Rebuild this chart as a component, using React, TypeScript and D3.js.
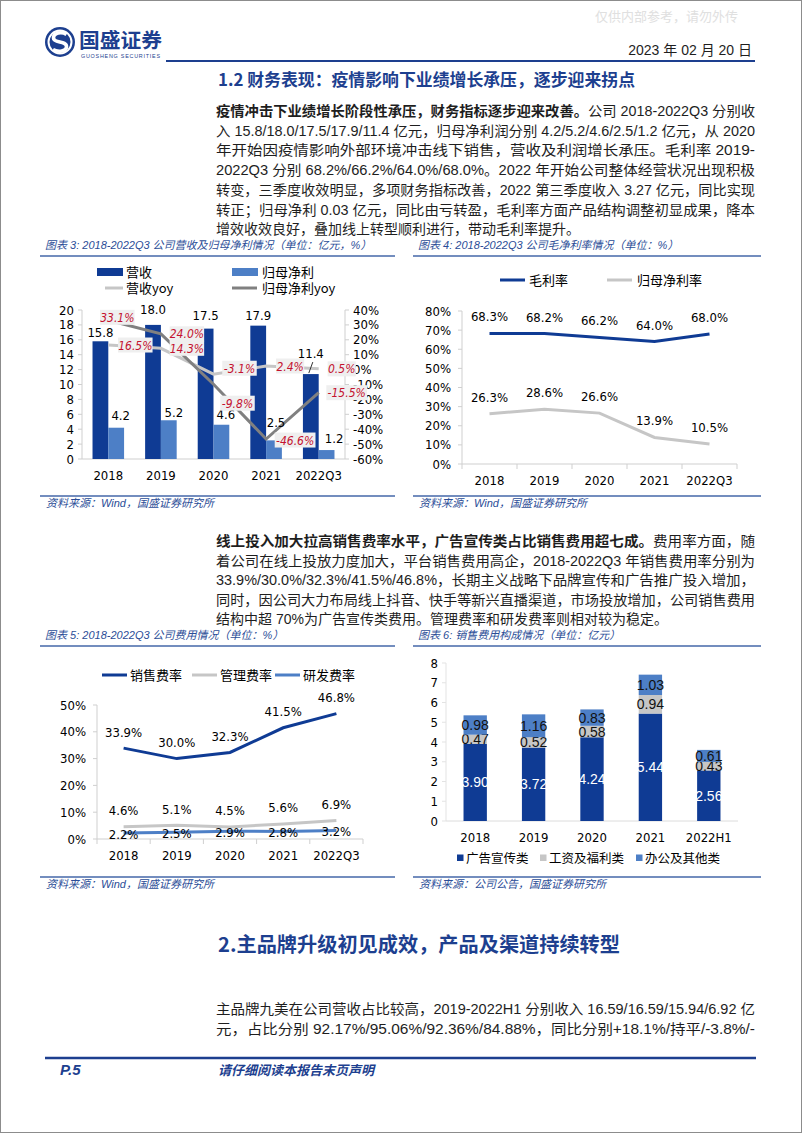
import { scaleBand, scaleLinear, line } from 'd3';

// ---- chart data ----
const years = ['2018', '2019', '2020', '2021', '2022Q3'];
const revenue = [15.8, 18.0, 17.5, 17.9, 11.4];
const netProfit = [4.2, 5.2, 4.6, 2.5, 1.2];
const revenueYoy = [16.5, 14.3, -3.1, 2.4, 0.5];
const profitYoy = [33.1, 24.0, -9.8, -46.6, -15.5];
const leftTicks = [0, 2, 4, 6, 8, 10, 12, 14, 16, 18, 20];
const rightTicks = [-60, -50, -40, -30, -20, -10, 0, 10, 20, 30, 40];

const grossMargin = [68.3, 68.2, 66.2, 64.0, 68.0];
const netMargin = [26.3, 28.6, 26.6, 13.9, 10.5];
const marginTicks = [0, 10, 20, 30, 40, 50, 60, 70, 80];

const salesRate = [33.9, 30.0, 32.3, 41.5, 46.8];
const adminRate = [4.6, 5.1, 4.5, 5.6, 6.9];
const rdRate = [2.2, 2.5, 2.9, 2.8, 3.2];
const rateTicks = [0, 10, 20, 30, 40, 50];

const years6 = ['2018', '2019', '2020', '2021', '2022H1'];
const adSpend = [3.9, 3.72, 4.24, 5.44, 2.56];
const salary = [0.47, 0.52, 0.58, 0.94, 0.43];
const office = [0.98, 1.16, 0.83, 1.03, 0.61];
const spendTicks = [0, 1, 2, 3, 4, 5, 6, 7, 8];

// hand-moved labels in the source chart (layout only)
const revLabelLift = [9, 15, 13.5, 10.5, 21];
const profitLabelNudge = [[4.5, -12.5], [5, -8], [4.5, -10], [2, -18], [7.5, -12]];
const revYoyNudge = [[27, 0], [26, 0], [26, -6], [24, 0], [23, 0]];
const profitYoyNudge = [[9, -3], [26, 0], [24, 19], [29, 1], [28, 0]];

// ---- styles ----
const CJK = "'Noto Sans CJK SC', sans-serif";
const BODY = "'Liberation Sans Narrow', 'Liberation Sans', 'Noto Sans CJK SC', sans-serif";
const TITLE = "'Liberation Sans', 'Noto Sans CJK SC', sans-serif";
const NUM = "'DejaVu Sans Condensed', 'DejaVu Sans', 'Noto Sans CJK SC', sans-serif";

const NAVY = '#1d3f8f';
const DARK_BLUE = '#0f3b94';
const MID_BLUE = '#4d7fc6';
const LIGHT_GRAY = '#c6c6c6';
const DARK_GRAY = '#808080';
const AXIS = '#cfcfcf';
const RED = '#c4122f';
const TITLE_BLUE = '#2b4d97';
const RULE_BLUE = '#4467a8';

type Seg = { t: string; b?: boolean };

const para1: Seg[][] = [
  [{ t: '疫情冲击下业绩增长阶段性承压，财务指标逐步迎来改善。', b: true }, { t: '公司 2018-2022Q3 分别收' }],
  [{ t: '入 15.8/18.0/17.5/17.9/11.4 亿元，归母净利润分别 4.2/5.2/4.6/2.5/1.2 亿元，从 2020' }],
  [{ t: '年开始因疫情影响外部环境冲击线下销售，营收及利润增长承压。毛利率 2019-' }],
  [{ t: '2022Q3 分别 68.2%/66.2%/64.0%/68.0%。2022 年开始公司整体经营状况出现积极' }],
  [{ t: '转变，三季度收效明显，多项财务指标改善，2022 第三季度收入 3.27 亿元，同比实现' }],
  [{ t: '转正；归母净利 0.03 亿元，同比由亏转盈，毛利率方面产品结构调整初显成果，降本' }],
  [{ t: '增效收效良好，叠加线上转型顺利进行，带动毛利率提升。' }],
];

const para2: Seg[][] = [
  [{ t: '线上投入加大拉高销售费率水平，广告宣传类占比销售费用超七成。', b: true }, { t: '费用率方面，随' }],
  [{ t: '着公司在线上投放力度加大，平台销售费用高企，2018-2022Q3 年销售费用率分别为' }],
  [{ t: '33.9%/30.0%/32.3%/41.5%/46.8%，长期主义战略下品牌宣传和广告推广投入增加，' }],
  [{ t: '同时，因公司大力布局线上抖音、快手等新兴直播渠道，市场投放增加，公司销售费用' }],
  [{ t: '结构中超 70%为广告宣传类费用。管理费率和研发费率则相对较为稳定。' }],
];

const para3: Seg[][] = [
  [{ t: '主品牌九美在公司营收占比较高，2019-2022H1 分别收入 16.59/16.59/15.94/6.92 亿' }],
  [{ t: '元，占比分别 92.17%/95.06%/92.36%/84.88%，同比分别+18.1%/持平/-3.8%/-' }],
];

const Para = ({ lines, y0, lead, justifyAll = false }: { lines: Seg[][]; y0: number; lead: number; justifyAll?: boolean }) => (
  <g>
    {lines.map((segs, i) => {
      const full = justifyAll || i < lines.length - 1;
      const extra = full ? { textLength: 539, lengthAdjust: 'spacingAndGlyphs' } : {};
      return (
        <text key={i} x={216} y={y0 + i * lead} fontSize={14} fontFamily={BODY} fill="#1e1e1e" {...extra}>
          {segs.map((s, j) => (
            <tspan key={j} fontWeight={s.b ? 700 : 400} fontFamily={s.b ? CJK : BODY}>
              {s.t}
            </tspan>
          ))}
        </text>
      );
    })}
  </g>
);

const Frame = ({ x0, x1, title, source, titleY, sourceY }: any) => (
  <g>
    <text x={x0 + 5} y={titleY + 4} fontSize={11} fontStyle="italic" fill={TITLE_BLUE} fontFamily={TITLE}>
      {title}
    </text>
    <line x1={x0} x2={x1} y1={titleY + 11} y2={titleY + 11} stroke={RULE_BLUE} strokeWidth={1.6} />
    <line x1={x0} x2={x1} y1={sourceY - 7} y2={sourceY - 7} stroke={RULE_BLUE} strokeWidth={1.6} />
    <text x={x0 + 6} y={sourceY + 4} fontSize={11} fontStyle="italic" fill={TITLE_BLUE} fontFamily={TITLE}>
      {source}
    </text>
  </g>
);

const pct = (v: number) => `${v.toFixed(1)}%`;
const textW = (s: string) => s.length * 6.3 + 3;

const YoyLabel = ({ x, y, s }: { x: number; y: number; s: string }) => (
  <g>
    <rect x={x - textW(s) / 2} y={y - 7.5} width={textW(s)} height={15} fill="#efefef" />
    <text x={x} y={y + 4.5} textAnchor="middle" fontSize={12} fontStyle="italic" fill={RED} fontFamily={NUM}>
      {s}
    </text>
  </g>
);

function RevenueChart() {
  const [xa, xb] = [82, 345];
  const x = scaleBand<string>().domain(years).range([xa, xb]);
  const bw = x.bandwidth();
  const mid = (i: number) => (x(years[i]) ?? 0) + bw / 2;
  const yL = scaleLinear().domain([0, 20]).range([459, 310]);
  const yR = scaleLinear().domain([-60, 40]).range([459, 310]);
  const barW = bw * 0.3;
  const path = line<number>().x((_, i) => mid(i)).y((v) => yR(v));
  return (
    <g>
      <rect x={97} y={268} width={26} height={8} fill={DARK_BLUE} />
      <text x={126} y={276.5} fontSize={13} fontFamily={CJK}>营收</text>
      <rect x={232} y={268} width={26} height={8} fill={MID_BLUE} />
      <text x={262} y={276.5} fontSize={13} fontFamily={CJK}>归母净利</text>
      <line x1={105} x2={123} y1={288} y2={288} stroke={LIGHT_GRAY} strokeWidth={3} />
      <text x={126} y={292.5} fontSize={13} fontFamily={CJK}>营收yoy</text>
      <line x1={232} x2={257} y1={288} y2={288} stroke={DARK_GRAY} strokeWidth={3} />
      <text x={262} y={292.5} fontSize={13} fontFamily={CJK}>归母净利yoy</text>

      <line x1={xa} x2={xa} y1={yL(20)} y2={yL(0)} stroke={AXIS} />
      <line x1={xb} x2={xb} y1={yL(20)} y2={yL(0)} stroke={AXIS} />
      <line x1={xa} x2={xb} y1={yL(0)} y2={yL(0)} stroke={AXIS} />
      {leftTicks.map((t) => (
        <g key={t}>
          <line x1={xa - 4} x2={xa} y1={yL(t)} y2={yL(t)} stroke={AXIS} />
          <text x={74} y={yL(t) + 4.5} textAnchor="end" fontSize={13} fontFamily={NUM}>{t}</text>
        </g>
      ))}
      {rightTicks.map((t) => (
        <g key={t}>
          <line x1={xb} x2={xb + 4} y1={yR(t)} y2={yR(t)} stroke={AXIS} />
          <text x={353} y={yR(t) + 4.5} fontSize={13} fontFamily={NUM}>{t}%</text>
        </g>
      ))}
      {years.map((d, i) => (
        <g key={d}>
          <rect x={mid(i) - barW} y={yL(revenue[i])} width={barW} height={yL(0) - yL(revenue[i])} fill={DARK_BLUE} />
          <rect x={mid(i)} y={yL(netProfit[i])} width={barW} height={yL(0) - yL(netProfit[i])} fill={MID_BLUE} />
          <text x={mid(i)} y={yL(0) + 21} textAnchor="middle" fontSize={13} fontFamily={NUM}>{d}</text>
        </g>
      ))}
      <path d={path(revenueYoy) ?? ''} fill="none" stroke={LIGHT_GRAY} strokeWidth={3} />
      <path d={path(profitYoy) ?? ''} fill="none" stroke={DARK_GRAY} strokeWidth={3} />
      {years.map((d, i) => (
        <g key={d}>
          <rect x={mid(i) - barW / 2 - 14} y={yL(revenue[i]) - revLabelLift[i] - 8} width={28} height={15} fill="#fff" />
          <text x={mid(i) - barW / 2} y={yL(revenue[i]) - revLabelLift[i] + 4.5} textAnchor="middle" fontSize={13} fontFamily={NUM}>
            {revenue[i].toFixed(1)}
          </text>
          <text x={mid(i) + barW / 2 + profitLabelNudge[i][0]} y={yL(netProfit[i]) + profitLabelNudge[i][1] + 4.5} textAnchor="middle" fontSize={13} fontFamily={NUM}>
            {netProfit[i].toFixed(1)}
          </text>
        </g>
      ))}
      <line x1={mid(4) - barW / 2 - 2} x2={mid(4) - barW / 2 + 2} y1={yL(revenue[4]) - 1} y2={yL(revenue[4]) - 12} stroke="#333" />
      {years.map((d, i) => (
        <g key={d}>
          <YoyLabel x={mid(i) + revYoyNudge[i][0]} y={yR(revenueYoy[i]) + revYoyNudge[i][1]} s={pct(revenueYoy[i])} />
          <YoyLabel x={mid(i) + profitYoyNudge[i][0]} y={yR(profitYoy[i]) + profitYoyNudge[i][1]} s={pct(profitYoy[i])} />
        </g>
      ))}
    </g>
  );
}

function MarginChart() {
  const [xa, xb] = [462, 737];
  const x = scaleBand<string>().domain(years).range([xa, xb]);
  const bw = x.bandwidth();
  const mid = (i: number) => (x(years[i]) ?? 0) + bw / 2;
  const y = scaleLinear().domain([0, 80]).range([464, 311]);
  const path = line<number>().x((_, i) => mid(i)).y((v) => y(v));
  const series = [
    { v: netMargin, c: LIGHT_GRAY },
    { v: grossMargin, c: DARK_BLUE },
  ];
  return (
    <g>
      <line x1={500} x2={525} y1={280} y2={280} stroke={DARK_BLUE} strokeWidth={3} />
      <text x={529} y={284.5} fontSize={13} fontFamily={CJK}>毛利率</text>
      <line x1={607} x2={632} y1={280} y2={280} stroke={LIGHT_GRAY} strokeWidth={3} />
      <text x={637} y={284.5} fontSize={13} fontFamily={CJK}>归母净利率</text>

      <line x1={xa} x2={xa} y1={y(80)} y2={y(0)} stroke={AXIS} />
      <line x1={xa} x2={xb} y1={y(0)} y2={y(0)} stroke={AXIS} />
      {marginTicks.map((t) => (
        <g key={t}>
          <line x1={xa - 4} x2={xa} y1={y(t)} y2={y(t)} stroke={AXIS} />
          <text x={451} y={y(t) + 4.5} textAnchor="end" fontSize={13} fontFamily={NUM}>{t}%</text>
        </g>
      ))}
      {[...years.map((d) => x(d) ?? 0), xb].map((p, i) => (
        <line key={i} x1={p} x2={p} y1={y(0)} y2={y(0) + 5} stroke={AXIS} />
      ))}
      {years.map((d, i) => (
        <text key={d} x={mid(i)} y={y(0) + 21} textAnchor="middle" fontSize={13} fontFamily={NUM}>{d}</text>
      ))}
      {series.map((s, k) => (
        <g key={k}>
          <path d={path(s.v) ?? ''} fill="none" stroke={s.c} strokeWidth={3} />
          {s.v.map((v, i) => (
            <text key={i} x={mid(i)} y={y(v) - 12} textAnchor="middle" fontSize={13} fontFamily={NUM}>{pct(v)}</text>
          ))}
        </g>
      ))}
    </g>
  );
}

function RateChart() {
  const [xa, xb] = [97, 363];
  const x = scaleBand<string>().domain(years).range([xa, xb]);
  const bw = x.bandwidth();
  const mid = (i: number) => (x(years[i]) ?? 0) + bw / 2;
  const y = scaleLinear().domain([0, 50]).range([839, 705]);
  const path = line<number>().x((_, i) => mid(i)).y((v) => y(v));
  const series = [
    { v: adminRate, c: LIGHT_GRAY, dy: -11.5 },
    { v: rdRate, c: MID_BLUE, dy: 5.5 },
    { v: salesRate, c: DARK_BLUE, dy: -11.5 },
  ];
  const legend = [
    { n: '销售费率', c: DARK_BLUE, x: 102 },
    { n: '管理费率', c: LIGHT_GRAY, x: 192 },
    { n: '研发费率', c: MID_BLUE, x: 275 },
  ];
  return (
    <g>
      {legend.map((l) => (
        <g key={l.n}>
          <line x1={l.x} x2={l.x + 25} y1={675} y2={675} stroke={l.c} strokeWidth={3} />
          <text x={l.x + 28} y={679.5} fontSize={13} fontFamily={CJK}>{l.n}</text>
        </g>
      ))}
      <line x1={xa} x2={xa} y1={y(50)} y2={y(0)} stroke={AXIS} />
      <line x1={xa} x2={xb} y1={y(0)} y2={y(0)} stroke={AXIS} />
      {rateTicks.map((t) => (
        <g key={t}>
          <line x1={xa - 4} x2={xa} y1={y(t)} y2={y(t)} stroke={AXIS} />
          <text x={86} y={y(t) + 4.5} textAnchor="end" fontSize={13} fontFamily={NUM}>{t}%</text>
        </g>
      ))}
      {[...years.map((d) => x(d) ?? 0), xb].map((p, i) => (
        <line key={i} x1={p} x2={p} y1={y(0)} y2={y(0) + 5} stroke={AXIS} />
      ))}
      {years.map((d, i) => (
        <text key={d} x={mid(i)} y={y(0) + 21} textAnchor="middle" fontSize={13} fontFamily={NUM}>{d}</text>
      ))}
      {series.map((s, k) => (
        <path key={k} d={path(s.v) ?? ''} fill="none" stroke={s.c} strokeWidth={3} />
      ))}
      {series.map((s, k) => (
        <g key={k}>
          {s.v.map((v, i) => (
            <text key={i} x={mid(i)} y={y(v) + s.dy} textAnchor="middle" fontSize={13} fontFamily={NUM}>{pct(v)}</text>
          ))}
        </g>
      ))}
    </g>
  );
}

function SpendChart() {
  const [xa, xb] = [446, 738];
  const x = scaleBand<string>().domain(years6).range([xa, xb]).paddingInner(0.6).paddingOuter(0.3);
  const y = scaleLinear().domain([0, 8]).range([821, 663]);
  const layers = [
    { v: adSpend, c: DARK_BLUE, t: '#fff', n: '广告宣传类' },
    { v: salary, c: LIGHT_GRAY, t: '#111', n: '工资及福利类' },
    { v: office, c: MID_BLUE, t: '#111', n: '办公及其他类' },
  ];
  const legendX = [457, 540, 636];
  return (
    <g>
      <line x1={xa} x2={xa} y1={y(8)} y2={y(0)} stroke="#e3e3e3" />
      <line x1={xa} x2={xb} y1={y(0)} y2={y(0)} stroke="#dcdcdc" />
      {spendTicks.map((t) => (
        <g key={t}>
          <line x1={xa - 4} x2={xa} y1={y(t)} y2={y(t)} stroke="#e3e3e3" />
          <text x={438} y={y(t) + 4.5} textAnchor="end" fontSize={13} fontFamily={NUM}>{t}</text>
        </g>
      ))}
      {years6.map((d, i) => {
        let base = 0;
        const bx = x(d) ?? 0;
        return (
          <g key={d}>
            {layers.map((l, k) => {
              const lo = base;
              base += l.v[i];
              const yTop = y(base);
              const h = y(lo) - yTop;
              return (
                <g key={k}>
                  <rect x={bx} y={yTop} width={x.bandwidth()} height={h} fill={l.c} />
                  <text x={bx + x.bandwidth() / 2} y={yTop + h / 2 + 5} textAnchor="middle" fontSize={14} fontFamily={BODY} fill={l.t}>
                    {l.v[i].toFixed(2)}
                  </text>
                </g>
              );
            })}
            <text x={bx + x.bandwidth() / 2} y={y(0) + 20.5} textAnchor="middle" fontSize={13} fontFamily={NUM}>{d}</text>
          </g>
        );
      })}
      {layers.map((l, k) => (
        <g key={l.n}>
          <rect x={legendX[k]} y={854.5} width={6.5} height={6.5} fill={l.c} />
          <text x={legendX[k] + 9} y={862.5} fontSize={12.5} fontFamily={CJK}>{l.n}</text>
        </g>
      ))}
    </g>
  );
}

const Logo = () => (
  <g>
    <circle cx={60} cy={42} r={15} fill={NAVY} />
    <circle cx={60} cy={42} r={11.5} fill="none" stroke="#fff" strokeWidth={2} />
    <path d="M66.5,34.5 C62,31.5 53.5,32.5 53.5,38 C53.5,43.5 66.5,40.5 66.5,46.5 C66.5,51.5 58,52.5 53,49.5" fill="none" stroke="#fff" strokeWidth={3.6} />
    <text x={79} y={47.5} fontSize={20} fontWeight={700} fill={NAVY} fontFamily={CJK} textLength={83} lengthAdjust="spacingAndGlyphs">国盛证券</text>
    <text x={81} y={57.5} fontSize={5.4} fill={NAVY} fontFamily={TITLE} textLength={79} lengthAdjust="spacing">GUOSHENG SECURITIES</text>
  </g>
);

export default function App() {
  return (
    <svg width={802} height={1133} style={{ position: 'absolute', left: 0, top: 0, background: '#fff' }}>
      <rect x={0.5} y={0.5} width={801} height={1132} fill="#fff" stroke="#8c8c8c" />
      <text x={595} y={21} fontSize={13} fill="#e0e0e0" fontFamily={CJK}>仅供内部参考，请勿外传</text>
      <Logo />
      <text x={752} y={54.5} textAnchor="end" fontSize={14} fill="#1e1e1e" fontFamily={BODY}>2023 年 02 月 20 日</text>
      <line x1={166} x2={755} y1={61} y2={61} stroke={NAVY} strokeWidth={2} />
      <text x={218} y={86} fontSize={17} fontWeight={700} fill={NAVY} fontFamily={CJK} textLength={417} lengthAdjust="spacingAndGlyphs">
        1.2 财务表现：疫情影响下业绩增长承压，逐步迎来拐点
      </text>

      <Para lines={para1} y0={116} lead={19.7} />

      <Frame x0={40} x1={395} titleY={245} sourceY={503} title="图表 3:  2018-2022Q3 公司营收及归母净利情况（单位：亿元，%）" source="资料来源：Wind，国盛证券研究所" />
      <Frame x0={413} x1={761} titleY={245} sourceY={503} title="图表 4:  2018-2022Q3 公司毛净利率情况（单位：%）" source="资料来源：Wind，国盛证券研究所" />
      <RevenueChart />
      <MarginChart />

      <Para lines={para2} y0={546} lead={19.6} />

      <Frame x0={40} x1={395} titleY={635} sourceY={884} title="图表 5:  2018-2022Q3 公司费用情况（单位：%）" source="资料来源：Wind，国盛证券研究所" />
      <Frame x0={413} x1={761} titleY={635} sourceY={884} title="图表 6:  销售费用构成情况（单位：亿元）" source="资料来源：公司公告，国盛证券研究所" />
      <RateChart />
      <SpendChart />

      <text x={218} y={952} fontSize={20} fontWeight={700} fill={NAVY} fontFamily={CJK} textLength={402} lengthAdjust="spacingAndGlyphs">
        2.主品牌升级初见成效，产品及渠道持续转型
      </text>
      <Para lines={para3} y0={1014} lead={19.5} justifyAll />

      <line x1={45} x2={756} y1={1058} y2={1058} stroke={NAVY} strokeWidth={2.5} />
      <text x={60} y={1075} fontSize={15} fontWeight={700} fontStyle="italic" fill={NAVY} fontFamily={TITLE}>P.5</text>
      <text x={218} y={1075} fontSize={13} fontWeight={700} fontStyle="italic" fill={NAVY} fontFamily={CJK}>请仔细阅读本报告末页声明</text>
    </svg>
  );
}
